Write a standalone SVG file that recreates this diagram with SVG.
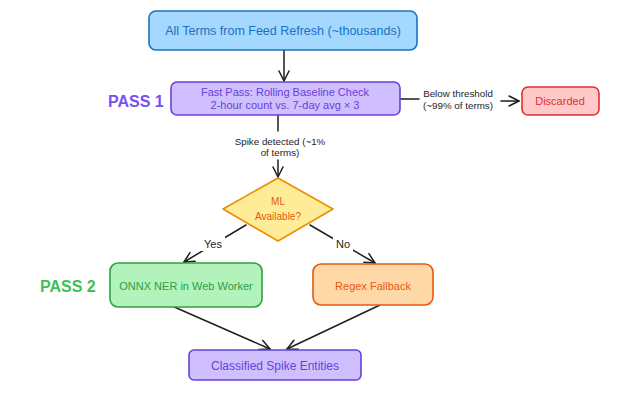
<svg xmlns="http://www.w3.org/2000/svg" width="620" height="397" viewBox="0 0 620 397">
<defs>
<marker id="arr" viewBox="0 0 12 12" refX="11" refY="6" markerWidth="12" markerHeight="12" markerUnits="userSpaceOnUse" orient="auto">
<polyline points="1,1 11,6 1,11" fill="none" stroke="#1e1e1e" stroke-width="1.5" stroke-linecap="round" stroke-linejoin="round"/>
</marker>
<style>
text{font-family:"Liberation Sans","DejaVu Sans",sans-serif;text-anchor:middle;dominant-baseline:central}
.n{font-size:11px}
.e{font-size:9.8px;fill:#1e1e1e}
.pass{font-size:16px;font-weight:bold;text-anchor:start}
.c{fill:none;stroke:#1e1e1e;stroke-width:1.5;stroke-linecap:round}
.bg{fill:#ffffff}
.blue rect{fill:#a5d8ff;stroke:#1971c2;stroke-width:1.6}
.blue text{fill:#1971c2}
.purple rect{fill:#d0bfff;stroke:#6741d9;stroke-width:1.6}
.purple text{fill:#6741d9}
.red rect{fill:#ffc9c9;stroke:#e03131;stroke-width:1.6}
.red text{fill:#e03131}
.yellow polygon{fill:#ffec99;stroke:#f08c00;stroke-width:1.6}
.yellow text{fill:#e8590c}
.green rect{fill:#b2f2bb;stroke:#2f9e44;stroke-width:1.6}
.green text{fill:#2f9e44}
.orange rect{fill:#ffd8a8;stroke:#e8590c;stroke-width:1.6}
.orange text{fill:#e8590c}
</style>
</defs>
<rect width="620" height="397" fill="#ffffff"/>
<g id="connectors">
<line class="c" x1="284" y1="50" x2="284" y2="81" marker-end="url(#arr)"/>
<line class="c" x1="400" y1="99" x2="419" y2="99"/>
<line class="c" x1="501" y1="101" x2="519" y2="101" marker-end="url(#arr)"/>
<line class="c" x1="278" y1="115" x2="278" y2="131"/>
<line class="c" x1="278" y1="160" x2="278" y2="177" marker-end="url(#arr)"/>
<line class="c" x1="246" y1="225" x2="184" y2="262" marker-end="url(#arr)"/>
<line class="c" x1="310" y1="225" x2="375" y2="263" marker-end="url(#arr)"/>
<line class="c" x1="172" y1="306" x2="270" y2="349" marker-end="url(#arr)"/>
<line class="c" x1="380" y1="305" x2="287" y2="349" marker-end="url(#arr)"/>
<text class="e" x="458" y="93">Below threshold</text>
<text class="e" x="458" y="105">(~99% of terms)</text>
<text class="e" x="280" y="141">Spike detected (~1%</text>
<text class="e" x="280" y="152">of terms)</text>
<rect class="bg" x="201" y="236" width="24" height="15"/>
<text class="e" x="213" y="244" style="font-size:11px">Yes</text>
<rect class="bg" x="333" y="236" width="20" height="15"/>
<text class="e" x="343" y="244" style="font-size:11px">No</text>
</g>
<g id="label-pass1"><text class="pass" x="108" y="101" fill="#7950f2">PASS 1</text></g>
<g id="label-pass2"><text class="pass" x="40" y="286" fill="#40c057">PASS 2</text></g>
<g id="all-terms" class="blue">
<rect x="149" y="11" width="268" height="39" rx="7"/>
<text class="n" x="283" y="31" style="font-size:12.5px">All Terms from Feed Refresh (~thousands)</text>
</g>
<g id="fast-pass" class="purple">
<rect x="171" y="82" width="229" height="33" rx="6"/>
<text class="n" x="285" y="92">Fast Pass: Rolling Baseline Check</text>
<text class="n" x="285" y="105">2-hour count vs. 7-day avg × 3</text>
</g>
<g id="discarded" class="red">
<rect x="522" y="87" width="77" height="28" rx="6"/>
<text class="n" x="560" y="101">Discarded</text>
</g>
<g id="ml-available" class="yellow">
<polygon points="278,178 333,209 278,241 223,209" stroke-linejoin="round"/>
<text class="n" x="278" y="201" style="font-size:10px">ML</text>
<text class="n" x="278" y="216" style="font-size:10px">Available?</text>
</g>
<g id="onnx" class="green">
<rect x="110" y="263" width="152" height="44" rx="8"/>
<text class="n" x="186" y="286">ONNX NER in Web Worker</text>
</g>
<g id="regex" class="orange">
<rect x="313" y="264" width="120" height="41" rx="8"/>
<text class="n" x="373" y="286">Regex Fallback</text>
</g>
<g id="classified" class="purple">
<rect x="189" y="350" width="172" height="30" rx="5"/>
<text class="n" x="275" y="366" style="font-size:12px">Classified Spike Entities</text>
</g>
</svg>
